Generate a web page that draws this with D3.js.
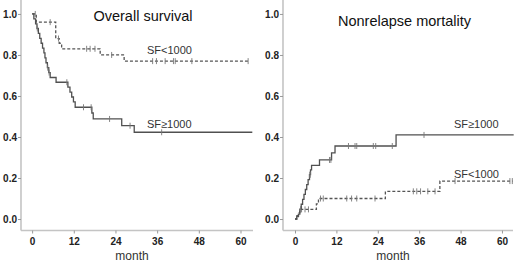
<!DOCTYPE html>
<html>
<head>
<meta charset="utf-8">
<script src="https://cdn.jsdelivr.net/npm/d3@7"></script>
<style>
  body { margin: 0; background: #fff; }
  text { font-family: "Liberation Sans", Arial, sans-serif; }
</style>
</head>
<body>
<script>
var width = 520;
var height = 262;

// overall survival, SF<1000 (dashed)
var osLowTime = [0, 1.2, 6.8, 7.8, 8.5, 19.6, 26.5];
var osLowValue = [1.0, 0.96, 0.88, 0.857, 0.83, 0.80, 0.77];
var osLowEnd = 62.2;
var osLowCensor = [0.9, 5.2, 7.6, 15.7, 16.7, 18.1, 22.9, 34.7, 35.8, 38.3, 40.7, 41.2, 46, 62.2];

// overall survival, SF>=1000 (solid)
var osHighTime = [0, 0.5, 1.0, 1.4, 1.8, 2.2, 2.6, 3.0, 3.4, 3.7, 4.0, 4.4, 4.8, 5.2, 6.9, 10.3, 10.9, 11.4, 11.9, 12.4, 17.2, 17.6, 25.8, 29.4];
var osHighValue = [1.0, 0.976, 0.952, 0.929, 0.905, 0.881, 0.857, 0.833, 0.81, 0.786, 0.762, 0.738, 0.714, 0.69, 0.667, 0.643, 0.619, 0.595, 0.571, 0.545, 0.517, 0.488, 0.455, 0.423];
var osHighEnd = 63.4;
var osHighCensor = [1.5, 4.5, 4.9, 10, 14.8, 17.0, 22.3, 28.2, 37.3];

// nonrelapse mortality, SF>=1000 (solid)
var nrmHighTime = [0, 0.5, 1.0, 1.4, 1.8, 2.2, 2.6, 3.0, 3.4, 3.8, 4.2, 4.5, 4.8, 7.1, 10.6, 11.6, 29.3];
var nrmHighValue = [0, 0.012, 0.024, 0.048, 0.072, 0.096, 0.12, 0.144, 0.168, 0.192, 0.216, 0.24, 0.262, 0.288, 0.323, 0.356, 0.41];
var nrmHighEnd = 63.4;
var nrmHighCensor = [1.6, 4.3, 4.4, 10.0, 10.4, 15.5, 17.4, 17.9, 22.7, 23.4, 28.2, 37.4];

// nonrelapse mortality, SF<1000 (dashed)
var nrmLowTime = [0, 0.5, 1.0, 1.4, 6.2, 6.8, 26.2, 42];
var nrmLowValue = [0, 0.016, 0.031, 0.047, 0.074, 0.1, 0.135, 0.185];
var nrmLowEnd = 63.1;
var nrmLowCensor = [1.9, 2.9, 3.9, 7.4, 8.2, 15.0, 16.4, 17.9, 23.2, 34.3, 35.3, 36.4, 38.5, 40.6, 46.4, 62.3, 63];

var yTicks = [0, 0.2, 0.4, 0.6, 0.8, 1.0];
var xTicks = [0, 12, 24, 36, 48, 60];

var svg = d3.select("body")
    .append("svg")
    .attr("width", width)
    .attr("height", height)

function stepData(times, values, end) {
    var pts = times.map(function (t, i) { return [t, values[i]] });
    pts.push([end, values[values.length - 1]]);
    return pts;
}

function valueAt(times, values, t) {
    var v = values[0];
    for (var i = 0; i < times.length; i++) {
        if (times[i] <= t) v = values[i];
    }
    return v;
}

function panel(opt) {
    var x = d3.scaleLinear().domain(opt.xDomain).range(opt.xRange);
    var y = d3.scaleLinear().domain([-0.056, 1.068]).range([230.5, 0]);
    var g = svg.append("g");

    var yAxis = g.append("g")
        .attr("transform", "translate(" + opt.xRange[0] + ",0)")
        .call(d3.axisLeft(y).tickValues(yTicks).tickFormat(d3.format(".1f")).tickSize(3).tickPadding(1));
    var xAxis = g.append("g")
        .attr("transform", "translate(0," + y.range()[0] + ")")
        .call(d3.axisBottom(x).tickValues(xTicks).tickSize(3).tickPadding(4));

    [xAxis, yAxis].forEach(function (a) {
        a.select(".domain").attr("stroke", "#c4c4c4").attr("stroke-width", 1.6);
        a.selectAll(".tick line").attr("stroke", "#999");
        a.selectAll(".tick text")
            .attr("fill", "#222")
            .style("font-size", "10px")
            .style("font-weight", "bold");
    });
    // axis paths drawn as plain lines (no end caps)
    xAxis.select(".domain").attr("d", "M" + opt.xRange[0] + ",0H" + opt.xRange[1]);
    yAxis.select(".domain").attr("d", "M0," + y.range()[0] + "V0");

    var line = d3.line()
        .x(function (d) { return x(d[0]) })
        .y(function (d) { return y(d[1]) })
        .curve(d3.curveStepAfter);

    opt.series.forEach(function (s) {
        g.append("path")
            .datum(stepData(s.time, s.value, s.end))
            .attr("fill", "none")
            .attr("stroke", s.dashed ? "#555" : "#505050")
            .attr("stroke-width", 1.3)
            .attr("stroke-dasharray", s.dashed ? "3,2" : null)
            .attr("d", line);

        g.selectAll(null)
            .data(s.censor)
            .enter()
            .append("line")
            .attr("x1", function (d) { return x(d) })
            .attr("x2", function (d) { return x(d) })
            .attr("y1", function (d) { return y(valueAt(s.time, s.value, d)) - 3 })
            .attr("y2", function (d) { return y(valueAt(s.time, s.value, d)) + 3 })
            .attr("stroke", "#777")
            .attr("stroke-width", 0.9);
    });

    g.append("text")
        .attr("x", opt.titleX)
        .attr("y", opt.titleY)
        .attr("text-anchor", "middle")
        .attr("fill", "#111")
        .style("font-size", "14.5px")
        .text(opt.title);

    opt.labels.forEach(function (l) {
        g.append("text")
            .attr("x", l.x)
            .attr("y", l.y)
            .attr("fill", "#333")
            .style("font-size", "11px")
            .text(l.text);
    });

    g.append("text")
        .attr("x", opt.monthX)
        .attr("y", 260)
        .attr("text-anchor", "middle")
        .attr("fill", "#333")
        .style("font-size", "12px")
        .text("month");
}

panel({
    xDomain: [-3.2, 63.6],
    xRange: [21, 253],
    title: "Overall survival",
    titleX: 143,
    titleY: 21,
    monthX: 132,
    series: [
        { time: osLowTime, value: osLowValue, end: osLowEnd, censor: osLowCensor, dashed: true },
        { time: osHighTime, value: osHighValue, end: osHighEnd, censor: osHighCensor, dashed: false }
    ],
    labels: [
        { text: "SF<1000", x: 147, y: 54 },
        { text: "SF\u22651000", x: 147, y: 128 }
    ]
});

panel({
    xDomain: [-3.48, 63.2],
    xRange: [283, 513],
    title: "Nonrelapse mortality",
    titleX: 404.5,
    titleY: 25.5,
    monthX: 393,
    series: [
        { time: nrmLowTime, value: nrmLowValue, end: nrmLowEnd, censor: nrmLowCensor, dashed: true },
        { time: nrmHighTime, value: nrmHighValue, end: nrmHighEnd, censor: nrmHighCensor, dashed: false }
    ],
    labels: [
        { text: "SF\u22651000", x: 454, y: 128 },
        { text: "SF<1000", x: 454, y: 177.5 }
    ]
});
</script>
</body>
</html>
